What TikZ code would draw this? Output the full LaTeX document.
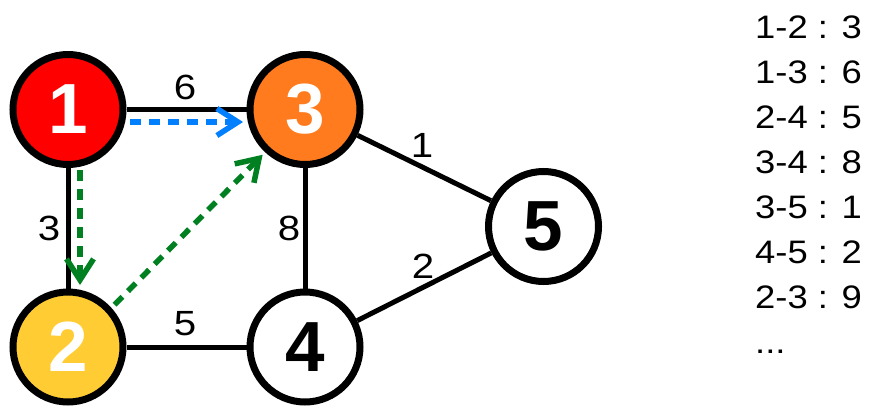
\documentclass[tikz,border=0pt]{standalone}
\usepackage{fontspec}
\setmainfont{Liberation Sans}
\newfontfamily\widefont[FakeStretch=1.15]{Liberation Sans}
\newfontfamily\listfont[FakeStretch=1.12]{Liberation Sans}
\usetikzlibrary{arrows.meta,backgrounds}
\definecolor{nred}{RGB}{255,0,0}
\definecolor{norange}{RGB}{255,123,30}
\definecolor{nyellow}{RGB}{255,204,51}
\definecolor{pblue}{RGB}{0,127,255}
\definecolor{pgreen}{RGB}{0,128,32}
\begin{document}
\begin{tikzpicture}[x=1pt,y=-1pt,
  vtx/.style={circle,draw=black,line width=7pt,minimum size=110pt,inner sep=0pt,
    font=\fontsize{71}{71}\selectfont\bfseries},
  edge/.style={line width=5pt},
  wlabel/.style={inner sep=0pt,font=\widefont\fontsize{35}{35}\selectfont},
  listtxt/.style={anchor=base west,inner sep=0pt,font=\listfont\fontsize{32.5}{32.5}\selectfont},
  walk/.style={line width=5.5pt,dash pattern=on 11pt off 8pt,
    -{Straight Barb[length=21pt,width=27pt]}}]
\useasboundingbox (0,0) rectangle (872,415);
\node[vtx,fill=nred,text=white] (n1) at (68,109.5) {1};
\node[vtx,fill=norange,text=white] (n3) at (305,109.5) {3};
\node[vtx,fill=nyellow,text=white] (n2) at (68,347) {2};
\node[vtx,fill=white,text=black] (n4) at (305,347) {4};
\node[vtx,fill=white,text=black] (n5) at (543.5,226.5) {5};
\begin{scope}[on background layer]
  \fill[white] (0,0) rectangle (872,415);
  \draw[edge] (n1) -- (n3);
  \draw[edge] (n1) -- (n2);
  \draw[edge] (n2) -- (n4);
  \draw[edge] (n3) -- (n4);
  \draw[edge] (n3) -- (n5);
  \draw[edge] (n4) -- (n5);
\end{scope}
\node[wlabel] (w13) at (185,87) {6};
\node[wlabel] (w24) at (185,324) {5};
\node[wlabel] (w12) at (49,228) {3};
\node[wlabel] (w34) at (289,228) {8};
\node[wlabel] (w35) at (422,145) {1};
\node[wlabel] (w45) at (423,266) {2};
\draw[walk,pblue,shorten >=3.5pt,shorten <=3.5pt] ([yshift=-12.5pt]n1.east) -- ([yshift=-12.5pt]n3.west);
\draw[walk,pgreen,shorten >=3.5pt,shorten <=2pt] ([xshift=12pt]n1.south) -- ([xshift=12pt]n2.north);
\draw[walk,pgreen,shorten >=3.5pt,shorten <=4.5pt] (n2.42) -- (n3.227);
\node[listtxt] (l1) at (755,38) {1-2 : 3};
\node[listtxt] (l2) at (755,83) {1-3 : 6};
\node[listtxt] (l3) at (755,128) {2-4 : 5};
\node[listtxt] (l4) at (755,173) {3-4 : 8};
\node[listtxt] (l5) at (755,218) {3-5 : 1};
\node[listtxt] (l6) at (755,263) {4-5 : 2};
\node[listtxt] (l7) at (755,308) {2-3 : 9};
\node[listtxt] (l8) at (755,353) {...};
\end{tikzpicture}
\end{document}
